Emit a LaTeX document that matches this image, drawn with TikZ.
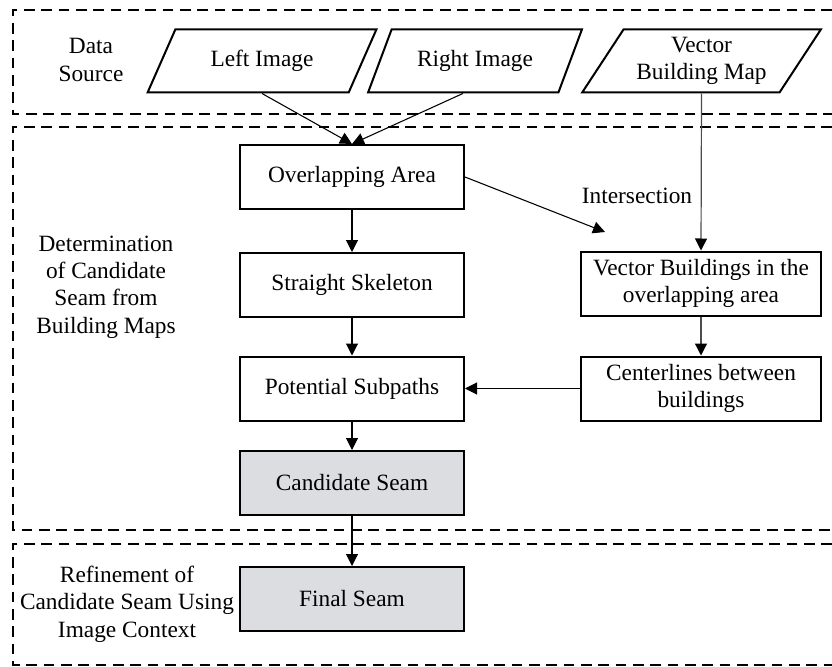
\documentclass[tikz,border=0pt]{standalone}
\usepackage{fontspec}
\setmainfont{Liberation Serif}
\usetikzlibrary{shapes.geometric, arrows.meta, calc}
\definecolor{seamgray}{RGB}{220,221,224}

\begin{document}
\begin{tikzpicture}[x=0.75pt, y=-0.75pt, font=\fontsize{17.5}{20.5}\selectfont,
  box/.style={draw, line width=1.5pt, minimum width=168pt, minimum height=48pt, inner sep=2pt, align=center},
  wbox/.style={box, minimum width=180pt},
  seam/.style={box, fill=seamgray},
  src/.style={draw, line width=1.5pt, trapezium, trapezium left angle=55, trapezium right angle=125,
    trapezium stretches=true, minimum height=47.25pt, inner sep=1pt, align=center},
  flow/.style={-{Triangle[length=9pt, width=9pt]}, line width=0.8pt},
  gflow/.style={line width=0.9pt, draw=black!70, -{Triangle[length=9pt, width=9pt, color=black]}},
  frame/.style={dash pattern=on 8pt off 5pt, line width=2pt},
  lab/.style={align=center}]
  \useasboundingbox (0,0) rectangle (832,667);
  % dashed stage frames, open to the right
  \draw[frame] (832,10) -- (13,10) -- (13,114) -- (832,114);
  \draw[frame] (832,127) -- (13,127) -- (13,530) -- (832,530);
  \draw[frame] (832,544) -- (13,544) -- (13,665) -- (832,665);
  % stage labels
  \node[lab] (ds) at (91,60) {Data\\Source};
  \node[lab] (det) at (106,287) {Determination\\of Candidate\\Seam from\\Building Maps};
  \node[lab] (ref) at (127,604) {Refinement of\\Candidate Seam Using\\Image Context};
  % data sources
  \node[src, minimum width=171.75pt] (li) at (262,61) {Left Image};
  \node[src, minimum width=160.5pt] (ri) at (475,61) {Right Image};
  \node[src, minimum width=179.25pt] (vbm) at (701.5,61) {Vector\\Building Map};
  % main column
  \node[box] (ovl) at (352,177) {Overlapping Area};
  \node[box] (ss) at (352,285) {Straight Skeleton};
  \node[box] (ps) at (352,388.5) {Potential Subpaths};
  \node[seam] (cs) at (352,483) {Candidate Seam};
  \node[seam] (fs) at (352,599) {Final Seam};
  % building map column
  \node[wbox] (vb) at (701,283.5) {Vector Buildings in the\\overlapping area};
  \node[wbox] (cl) at (701,388.5) {Centerlines between\\buildings};
  \coordinate (isec) at (605,232);
  \node (isl) at (637,196) {Intersection};
  % connectors
  \draw[flow] (li.south) -- (ovl.north);
  \draw[flow] ($(ri.bottom left corner)!0.5!(ri.bottom right corner)$) -- (ovl.north);
  \draw[gflow] (vbm.south) -- (vb.north);
  \draw[flow] (ovl.east) -- (isec);
  \draw[flow] (ovl) -- (ss);
  \draw[flow] (ss) -- (ps);
  \draw[flow] (ps) -- (cs);
  \draw[flow] (cs) -- (fs);
  \draw[gflow] (vb) -- (cl);
  \draw[flow] (cl) -- (ps);
\end{tikzpicture}
\end{document}
